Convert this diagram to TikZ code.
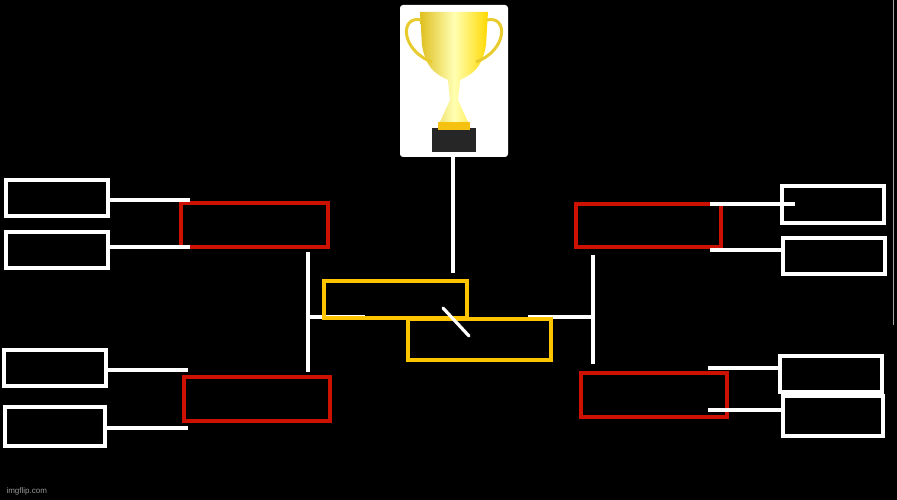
\documentclass[tikz,border=0pt]{standalone}
\usepackage{fontspec}
\setmainfont{Liberation Sans}
\definecolor{gold}{HTML}{FFC400}
\definecolor{bred}{HTML}{CC1100}
\begin{document}
\begin{tikzpicture}[x=1pt,y=-1pt,
  wbox/.style={draw=white,line width=4.5pt},
  rbox/.style={draw=bred,line width=4.5pt},
  ybox/.style={draw=gold,line width=4.5pt},
  wline/.style={draw=white,line width=3.2pt}]
\fill[black] (0,0) rectangle (897,500);
\useasboundingbox (0,0) rectangle (897,500);
% left boxes
\draw[wbox] (6,180) rectangle (108,216);
\draw[wbox] (6,232) rectangle (108,268);
\draw[wbox] (4,350) rectangle (106,386);
\draw[wbox] (5,407) rectangle (105,446);
% right boxes
\draw[wbox] (782,186) rectangle (884,223);
\draw[wbox] (783,238) rectangle (885,274);
\draw[wbox] (780,356) rectangle (882,392);
\draw[wbox] (783,396) rectangle (883,436);
% red
\draw[rbox] (181,203) rectangle (328,247);
\draw[rbox] (184,377) rectangle (330,421);
\draw[rbox] (576,204) rectangle (721,247);
\draw[rbox] (581,373) rectangle (727,417);
% connectors
\draw[wline] (108,200) -- (190,200);
\draw[wline] (108,247) -- (190,247);
\draw[wline] (106,370) -- (188,370);
\draw[wline] (105,428) -- (188,428);
\draw[wline] (308,252) -- (308,372);
\draw[wline] (308,317) -- (365,317);
\draw[wline] (710,204) -- (795,204);
\draw[wline] (710,250) -- (783,250);
\draw[wline] (708,368) -- (780,368);
\draw[wline] (708,410) -- (783,410);
\draw[wline] (593,255) -- (593,364);
\draw[wline] (528,317) -- (593,317);
% yellow
\draw[ybox] (324,281) rectangle (467,318);
\draw[ybox] (408,319) rectangle (551,360);
\draw[wline,line cap=round] (443,308) -- (469,336);
% trophy
\fill[white,rounded corners=3pt] (400,5) rectangle (508,157);
\draw[wline] (453,157) -- (453,273);
\fill[black!85] (432,128) rectangle (476,152);
\fill[yellow!60!orange!90!brown] (438,122) rectangle (470,130);
\shade[left color=yellow!50!brown,right color=yellow!70!orange,middle color=yellow!30]
  (420,12) -- (488,12) -- (486,45) .. controls (482,70) and (470,75) .. (460,80)
  -- (458,100) -- (468,122) -- (440,122) -- (450,100) -- (448,80)
  .. controls (438,75) and (426,70) .. (422,45) -- cycle;
\draw[yellow!60!brown,line width=3pt] (421,20) .. controls (400,15) and (400,50) .. (432,62);
\draw[yellow!60!brown,line width=3pt] (487,20) .. controls (508,15) and (508,50) .. (476,62);
% imgflip
\node[text=gray!80,font=\fontsize{8}{9}\selectfont,anchor=west] (ig) at (3,491) {imgflip.com};
\draw[gray!70,line width=1pt] (893,0) -- (893,325);
\end{tikzpicture}
\end{document}
